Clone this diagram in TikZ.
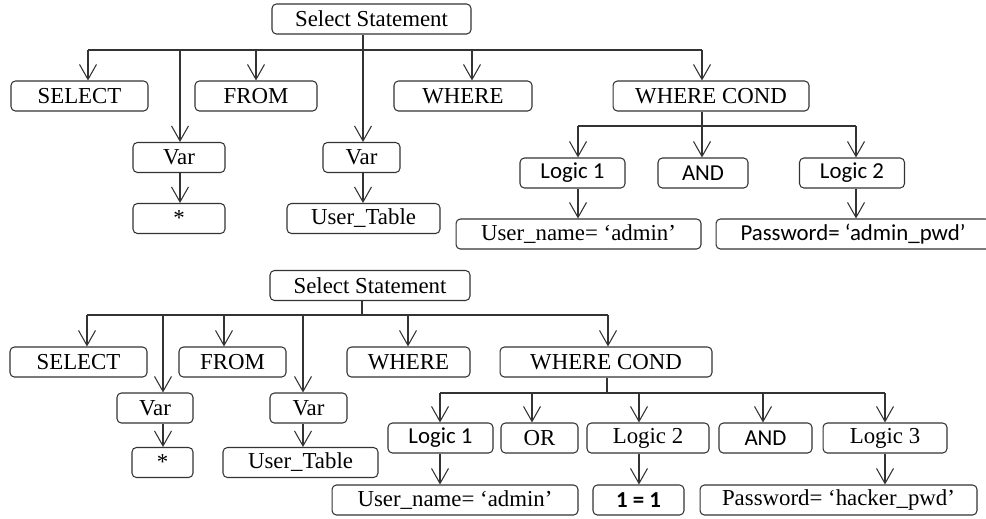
\documentclass[tikz,border=0pt]{standalone}
\usepackage{fontspec}
\setmainfont{Liberation Serif}
\setsansfont{Carlito}
\usetikzlibrary{arrows.meta}

\tikzset{
  box/.style={draw=black!80, rounded corners=2.5pt, minimum height=0.6cm, inner sep=0pt,
    font=\fontsize{13}{15}\selectfont},
  sbox/.style={box, font=\fontsize{13}{15}\selectfont\sffamily},
  arr/.style={-{Straight Barb[length=3mm,width=3.4mm]}},
}

\begin{document}
\begin{tikzpicture}[x=0.02cm, y=-0.02cm, line width=0.6pt, draw=black!80]
  \useasboundingbox (0,0) rectangle (986,518);

  % first tree
  \node[box, minimum width=3.98cm] (sel1) at (371.5,19) {Select Statement};
  \node[box, minimum width=2.74cm] (selk1) at (79.5,96) {SELECT};
  \node[box, minimum width=2.44cm] (from1) at (256,96) {FROM};
  \node[box, minimum width=2.76cm] (where1) at (463,96) {WHERE};
  \node[box, minimum width=3.92cm] (cond1) at (711,96) {WHERE COND};
  \node[box, minimum width=1.84cm] (var1a) at (179,157.5) {Var};
  \node[box, minimum width=1.84cm] (star1) at (179,218.5) {*};
  \node[box, minimum width=1.54cm] (var1b) at (361.5,157.5) {Var};
  \node[box, minimum width=3.06cm] (tab1) at (363.5,218.5) {User\_Table};
  \node[sbox, minimum width=2.1cm] (log1a) at (572.5,173) {Logic 1};
  \node[sbox, minimum width=1.8cm] (and1) at (703,173) {AND};
  \node[sbox, minimum width=2.1cm] (log1b) at (852,173) {Logic 2};
  \node[box, minimum width=4.9cm] (user1) at (578.5,234) {User\_name= ‘admin’};
  \node[sbox, minimum width=5.48cm] (pwd1) at (853,234) {Password= ‘admin\_pwd’};

  \coordinate (t-sel) at (88,50);
  \coordinate (t-var1) at (180,50);
  \coordinate (t-from) at (256,50);
  \coordinate (t-var2) at (363,50);
  \coordinate (t-where) at (472,50);
  \coordinate (t-cond) at (702,50);
  \coordinate (u-log1) at (578,126);
  \coordinate (u-and) at (702,126);
  \coordinate (u-log2) at (856,126);

  \draw (t-var2 |- sel1.south) -- (t-var2);
  \draw (t-sel) -- (t-cond);
  \draw[arr] (t-sel) -- (t-sel |- selk1.north);
  \draw[arr] (t-var1) -- (t-var1 |- var1a.north);
  \draw[arr] (t-from) -- (t-from |- from1.north);
  \draw[arr] (t-var2) -- (t-var2 |- var1b.north);
  \draw[arr] (t-where) -- (t-where |- where1.north);
  \draw[arr] (t-cond) -- (t-cond |- cond1.north);
  \draw[arr] (t-var1 |- var1a.south) -- (t-var1 |- star1.north);
  \draw[arr] (t-var2 |- var1b.south) -- (t-var2 |- tab1.north);
  \draw (u-and |- cond1.south) -- (u-and);
  \draw (u-log1) -- (u-log2);
  \draw[arr] (u-log1) -- (u-log1 |- log1a.north);
  \draw[arr] (u-and) -- (u-and |- and1.north);
  \draw[arr] (u-log2) -- (u-log2 |- log1b.north);
  \draw[arr] (u-log1 |- log1a.south) -- (u-log1 |- user1.north);
  \draw[arr] (u-log2 |- log1b.south) -- (u-log2 |- pwd1.north);

  % second tree
  \node[box, minimum width=4.0cm] (sel2) at (370,285.5) {Select Statement};
  \node[box, minimum width=2.74cm] (selk2) at (78.5,362) {SELECT};
  \node[box, minimum width=2.14cm] (from2) at (232.5,362) {FROM};
  \node[box, minimum width=2.46cm] (where2) at (408.5,362) {WHERE};
  \node[box, minimum width=4.24cm] (cond2) at (606,362) {WHERE COND};
  \node[box, minimum width=1.52cm] (var2a) at (155,408) {Var};
  \node[box, minimum width=1.22cm] (star2) at (162.5,462.5) {*};
  \node[box, minimum width=1.54cm] (var2b) at (308.5,408) {Var};
  \node[box, minimum width=3.1cm] (tab2) at (300.5,462.5) {User\_Table};
  \node[sbox, minimum width=2.1cm] (log2a) at (440.5,438) {Logic 1};
  \node[box, minimum width=1.54cm] (or2) at (539.5,438) {OR};
  \node[box, minimum width=2.44cm] (log2b) at (648,438) {Logic 2};
  \node[sbox, minimum width=1.86cm] (and2) at (765.5,438) {AND};
  \node[box, minimum width=2.48cm] (log2c) at (885,438) {Logic 3};
  \node[box, minimum width=4.92cm] (user2) at (455,500) {User\_name= ‘admin’};
  \node[sbox, minimum width=1.82cm] (one2) at (638.5,500) {\bfseries 1 = 1};
  \node[box, minimum width=5.54cm] (pwd2) at (838.5,500) {Password= ‘hacker\_pwd’};

  \coordinate (v-sel) at (87,315);
  \coordinate (v-var1) at (163,315);
  \coordinate (v-from) at (224,315);
  \coordinate (v-var2) at (303,315);
  \coordinate (v-stem) at (362,315);
  \coordinate (v-where) at (408,315);
  \coordinate (v-cond) at (608,315);
  \coordinate (w-log1) at (440,393);
  \coordinate (w-or) at (532,393);
  \coordinate (w-stem) at (607,393);
  \coordinate (w-log2) at (639,393);
  \coordinate (w-and) at (763,393);
  \coordinate (w-log3) at (885,393);

  \draw (v-stem |- sel2.south) -- (v-stem);
  \draw (v-sel) -- (v-cond);
  \draw[arr] (v-sel) -- (v-sel |- selk2.north);
  \draw[arr] (v-var1) -- (v-var1 |- var2a.north);
  \draw[arr] (v-from) -- (v-from |- from2.north);
  \draw[arr] (v-var2) -- (v-var2 |- var2b.north);
  \draw[arr] (v-where) -- (v-where |- where2.north);
  \draw[arr] (v-cond) -- (v-cond |- cond2.north);
  \draw[arr] (v-var1 |- var2a.south) -- (v-var1 |- star2.north);
  \draw[arr] (v-var2 |- var2b.south) -- (v-var2 |- tab2.north);
  \draw (w-stem |- cond2.south) -- (w-stem);
  \draw (w-log1) -- (w-log3);
  \draw[arr] (w-log1) -- (w-log1 |- log2a.north);
  \draw[arr] (w-or) -- (w-or |- or2.north);
  \draw[arr] (w-log2) -- (w-log2 |- log2b.north);
  \draw[arr] (w-and) -- (w-and |- and2.north);
  \draw[arr] (w-log3) -- (w-log3 |- log2c.north);
  \draw[arr] (w-log1 |- log2a.south) -- (w-log1 |- user2.north);
  \draw[arr] (w-log2 |- log2b.south) -- (w-log2 |- one2.north);
  \draw[arr] (w-log3 |- log2c.south) -- (w-log3 |- pwd2.north);
\end{tikzpicture}
\end{document}
